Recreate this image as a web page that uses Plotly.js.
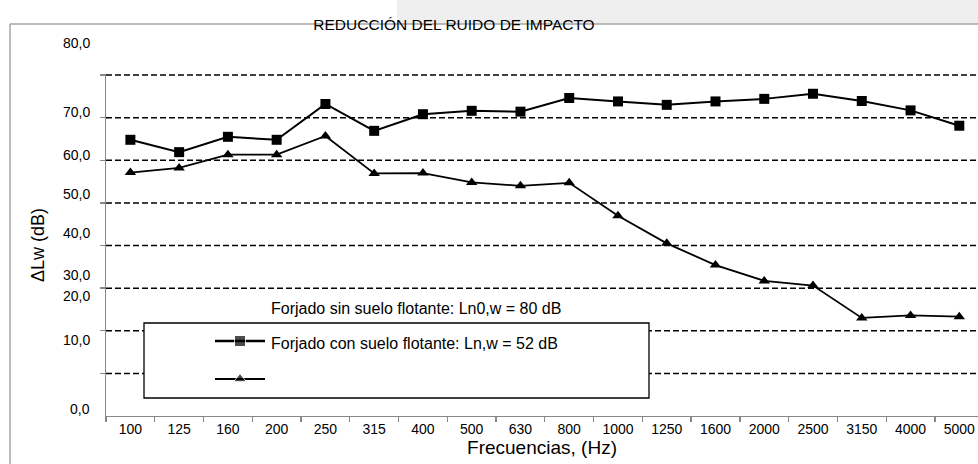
<!DOCTYPE html>
<html>
<head>
<meta charset="utf-8">
<script src="https://cdn.plot.ly/plotly-3.0.1.min.js"></script>
<style>
html,body{margin:0;padding:0;overflow:hidden;background:#fff;}
#chart{width:978px;height:464px;}
</style>
</head>
<body>
<div id="chart"></div>
<script>
// ---- data ----
const freqs = ['100','125','160','200','250','315','400','500','630','800','1000','1250','1600','2000','2500','3150','4000','5000'];
const sinSuelo = [64.8, 61.9, 65.5, 64.8, 73.2, 66.9, 70.8, 71.6, 71.4, 74.6, 73.8, 73.0, 73.8, 74.4, 75.6, 73.9, 71.7, 68.1];
const conSuelo = [57.1, 58.2, 61.3, 61.3, 65.7, 56.9, 57.0, 54.8, 54.0, 54.7, 47.0, 40.5, 35.4, 31.7, 30.6, 23.0, 23.6, 23.3];
const gridVals = [10, 20, 30, 40, 50, 60, 70, 80];
const yTickLabels = ['0,0', '10,0', '20,0', '30,0', '40,0', '50,0', '60,0', '70,0', '80,0'];
const yTickLabelAt = [1.6, 17.8, 28.2, 33.1, 43.0, 52.1, 61.3, 71.3, 87.6];
const legendNames = ['Forjado sin suelo flotante: Ln0,w = 80 dB', 'Forjado con suelo flotante: Ln,w = 52 dB'];
const titleText = 'REDUCCIÓN DEL RUIDO DE IMPACTO';

// ---- geometry ----
const W = 978, H = 464;
const M = {l: 106, r: 0, t: 74, b: 48};
const PW = W - M.l - M.r, PH = H - M.t - M.b;
const catWidth = 48.76;               // px per frequency band
const xEnd = -0.5 + PW / catWidth;    // plot is cut at the right edge of the picture
const yTop = 80 * PH / (PH - 1);
const px2paperX = px => (px - M.l) / PW;
const px2paperY = py => (H - M.b - py) / PH;
const FONT = 'Liberation Sans, Arial, sans-serif';

const traces = [
  {x: freqs, y: sinSuelo, type: 'scatter', mode: 'lines+markers', xaxis: 'x', yaxis: 'y',
   line: {color: '#000', width: 2}, marker: {symbol: 'square', size: 10, color: '#000'},
   hoverinfo: 'skip', showlegend: false},
  {x: freqs, y: conSuelo, type: 'scatter', mode: 'lines+markers', xaxis: 'x', yaxis: 'y',
   line: {color: '#000', width: 1.8}, marker: {symbol: 'triangle-up', size: 10, color: '#000'},
   hoverinfo: 'skip', showlegend: false},
  // legend samples (in pixel-space overlay axes)
  {x: [215, 240, 265], y: [341, 341, 341], type: 'scatter', mode: 'lines+markers', xaxis: 'x2', yaxis: 'y2',
   line: {color: '#000', width: 2.6}, marker: {symbol: 'square', size: [0, 11, 0], color: '#000'},
   hoverinfo: 'skip', showlegend: false},
  {x: [215, 240, 265], y: [379, 379, 379], type: 'scatter', mode: 'lines+markers', xaxis: 'x2', yaxis: 'y2',
   line: {color: '#000', width: 1.8}, marker: {symbol: 'triangle-up', size: [0, 11, 0], color: '#000'},
   hoverinfo: 'skip', showlegend: false}
];

const annotations = yTickLabels.map((t, i) => ({
  text: t, xref: 'paper', yref: 'paper', x: 0, y: yTickLabelAt[i] / yTop,
  xanchor: 'right', yanchor: 'middle', xshift: -14, showarrow: false,
  font: {family: FONT, size: 14, color: '#000'}
}));
annotations.push(
  {text: legendNames[0], xref: 'x2', yref: 'y2', x: 269, y: 308, xanchor: 'left', yanchor: 'middle',
   showarrow: false, font: {family: FONT, size: 16, color: '#000'}},
  {text: legendNames[1], xref: 'x2', yref: 'y2', x: 269, y: 343, xanchor: 'left', yanchor: 'middle',
   showarrow: false, font: {family: FONT, size: 16, color: '#000'}}
);

const shapes = [
  // checkered (transparent) strip at top right
  {type: 'rect', xref: 'paper', yref: 'paper', layer: 'below',
   x0: px2paperX(397), x1: px2paperX(W + 5), y0: px2paperY(24), y1: px2paperY(-5),
   fillcolor: '#efefef', line: {width: 0}},
  // outer chart frame: left and top edges (others fall outside the picture)
  {type: 'line', xref: 'paper', yref: 'paper', layer: 'below',
   x0: px2paperX(10), x1: px2paperX(10), y0: px2paperY(H + 5), y1: px2paperY(24),
   line: {color: '#a6a6a6', width: 1.5}},
  {type: 'line', xref: 'paper', yref: 'paper', layer: 'below',
   x0: px2paperX(10), x1: px2paperX(W + 5), y0: px2paperY(24), y1: px2paperY(24),
   line: {color: '#a6a6a6', width: 1.5}}
];
// dashed horizontal gridlines at each 10 dB
gridVals.forEach(v => shapes.push({
  type: 'line', xref: 'paper', yref: 'y', layer: 'below',
  x0: 0, x1: 1, y0: v, y1: v,
  line: {color: '#000', width: 1.5, dash: '6px,3px'}
}));
// legend box (covers the gridlines behind it)
shapes.push({type: 'rect', xref: 'x2', yref: 'y2', layer: 'below',
  x0: 144, x1: 649, y0: 323, y1: 398,
  fillcolor: '#fff', line: {color: '#000', width: 1.3}});

const layout = {
  width: W, height: H, margin: M,
  paper_bgcolor: '#fff', plot_bgcolor: 'rgba(0,0,0,0)',
  font: {family: FONT, color: '#000'},
  showlegend: false,
  title: {text: titleText, xref: 'container', yref: 'container', x: 454 / W, y: 1 - 25 / H,
          xanchor: 'center', yanchor: 'middle',
          font: {family: FONT, size: 15.5, color: '#000'}},
  xaxis: {type: 'category', domain: [0, 1], range: [-0.5, xEnd], showline: true, linecolor: '#888', linewidth: 1.3,
          ticks: 'outside', tickson: 'boundaries', ticklen: 5, tickcolor: '#888', tickwidth: 1.3,
          showgrid: false, zeroline: false, tickfont: {family: FONT, size: 14, color: '#000'},
          title: {text: 'Frecuencias, (Hz)', font: {family: FONT, size: 19, color: '#000'}, standoff: 4}},
  yaxis: {range: [0, yTop], domain: [0, 1], showline: true, linecolor: '#888', linewidth: 1.3,
          tickmode: 'array', tickvals: gridVals, showticklabels: false,
          ticks: 'outside', ticklen: 5, tickcolor: '#888', tickwidth: 1.3,
          showgrid: false, zeroline: false,
          title: {text: 'ΔLw (dB)', font: {family: FONT, size: 18, color: '#000'}, standoff: 50}},
  xaxis2: {domain: [0, 1], range: [M.l, W - M.r], anchor: 'y2', visible: false, fixedrange: true},
  yaxis2: {domain: [0, 1], range: [H - M.b, M.t], anchor: 'x2', visible: false, fixedrange: true},
  annotations: annotations,
  shapes: shapes
};

Plotly.newPlot('chart', traces, layout, {staticPlot: true, displayModeBar: false});
</script>
</body>
</html>
